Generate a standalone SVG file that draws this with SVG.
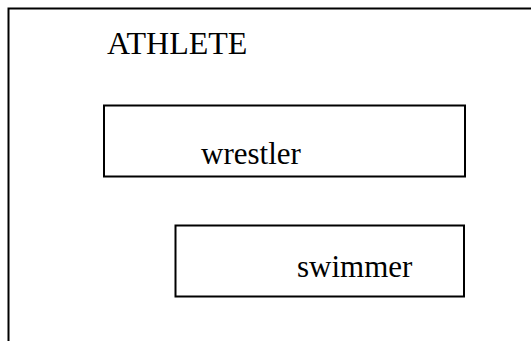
<svg xmlns="http://www.w3.org/2000/svg" width="531" height="341" viewBox="0 0 531 341">
<style>
.box{fill:#fff;stroke:#000;stroke-width:2}
.t{font-family:"Liberation Serif","Times New Roman",serif;font-size:31px;fill:#000}
</style>
<rect width="531" height="341" fill="#fff"/>
<g id="athlete">
<path d="M8.5 341 V8.5 H531" fill="none" stroke="#000" stroke-width="2"/>
<text class="t" x="107" y="53.5" style="font-size:32px">ATHLETE</text>
</g>
<g id="wrestler">
<rect class="box" x="104" y="105.5" width="361" height="71"/>
<text class="t" x="201" y="164">wrestler</text>
</g>
<g id="swimmer">
<rect class="box" x="175.5" y="225.5" width="288.5" height="71"/>
<text class="t" x="297" y="277">swimmer</text>
</g>
<g id="connectors"></g>
</svg>
